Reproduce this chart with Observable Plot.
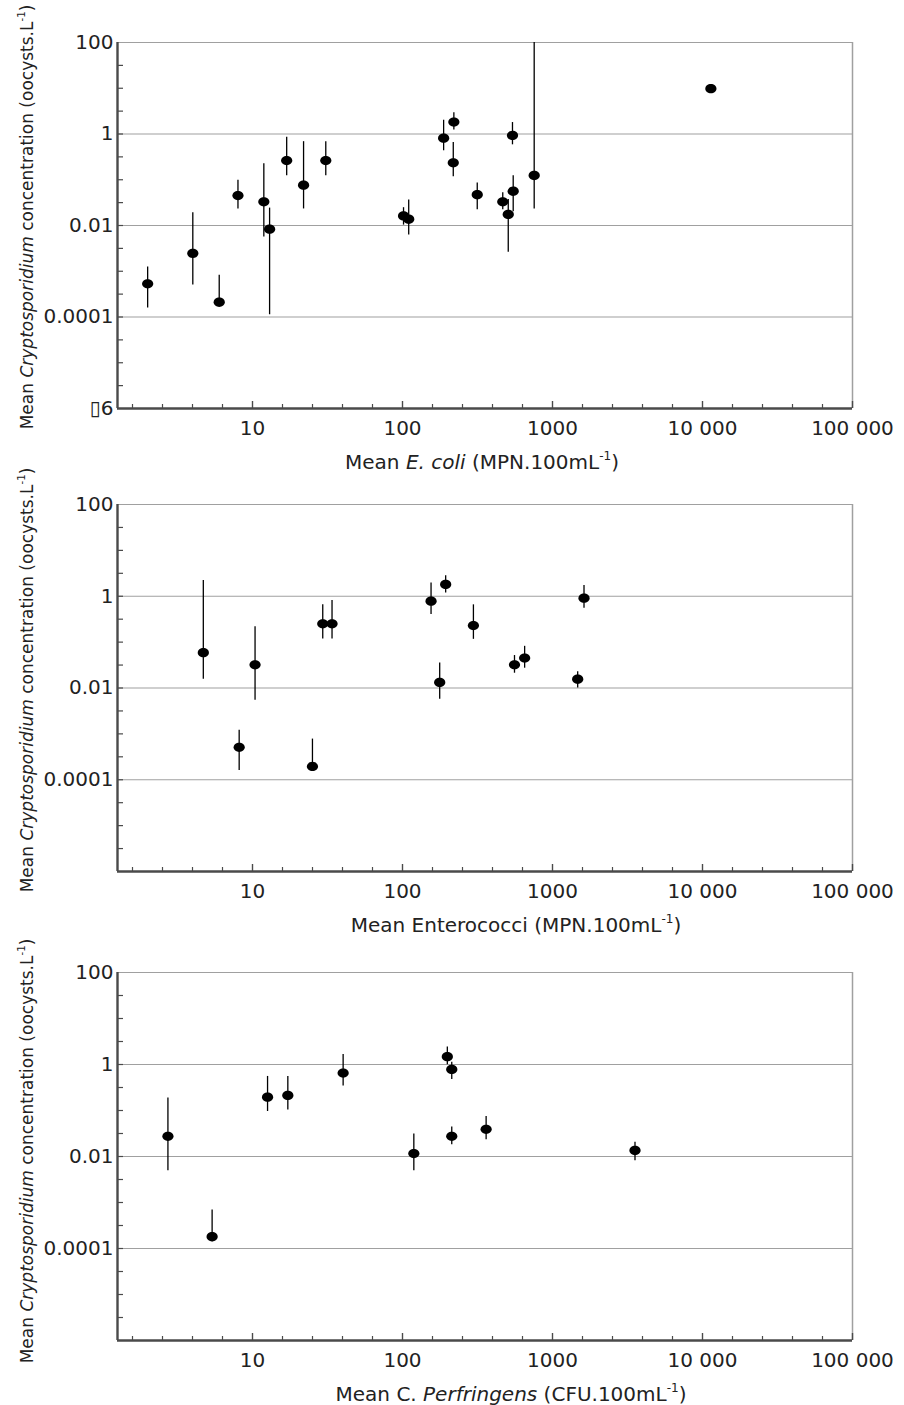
<!DOCTYPE html>
<html>
<head>
<meta charset="utf-8">
<script src="https://cdn.jsdelivr.net/npm/d3@7"></script>
<script src="https://cdn.jsdelivr.net/npm/@observablehq/plot@0.6"></script>
<style>
  html, body { margin: 0; padding: 0; background: #fff; }
  #chart svg { display: block; overflow: visible; }
</style>
</head>
<body>
<div id="chart"></div>
<script>
// ---------- Data ----------
// Panel 1: E. coli
const ecoliX  = [2.0, 4.0, 6.0, 8.0, 11.9, 13.0, 16.9, 21.9, 30.8, 101.6, 110, 188, 220, 218, 315, 466, 507, 547, 541, 755, 11370];
const ecoliY  = [0.00053, 0.00245, 0.00021, 0.045, 0.033, 0.0083, 0.263, 0.076, 0.263, 0.0162, 0.0137, 0.81, 1.82, 0.234, 0.047, 0.033, 0.0175, 0.056, 0.93, 0.124, 9.8];
const ecoliLo = [0.000158, 0.0005, 0.00018, 0.023, 0.0056, 0.000112, 0.123, 0.023, 0.123, 0.0102, 0.0062, 0.43, 1.23, 0.117, 0.022, 0.022, 0.0026, 0.020, 0.58, 0.023, null];
const ecoliHi = [0.00124, 0.019, 0.00082, 0.098, 0.225, 0.024, 0.85, 0.68, 0.68, 0.0245, 0.036, 2.0, 2.9, 0.65, 0.085, 0.052, 0.037, 0.123, 1.78, 100, null];

// Panel 2: Enterococci
const entX  = [4.7, 8.15, 10.4, 25.1, 29.4, 33.9, 155, 177, 194, 297, 558, 652, 1472, 1622];
const entY  = [0.059, 0.00051, 0.032, 0.000195, 0.25, 0.25, 0.78, 0.0132, 1.81, 0.23, 0.032, 0.045, 0.0155, 0.91];
const entLo = [0.0155, 0.00016, 0.0054, 0.00016, 0.117, 0.117, 0.40, 0.0057, 1.17, 0.115, 0.021, 0.027, 0.010, 0.55];
const entHi = [2.2, 0.0012, 0.215, 0.00077, 0.65, 0.81, 1.95, 0.035, 2.8, 0.65, 0.051, 0.081, 0.0226, 1.72];

// Panel 3: C. perfringens
const cpX  = [2.73, 5.38, 12.6, 17.2, 40.2, 119, 199, 213, 213, 361, 3548];
const cpY  = [0.0275, 0.00018, 0.195, 0.213, 0.65, 0.0116, 1.48, 0.78, 0.0275, 0.039, 0.0135];
const cpLo = [0.0049, 0.00014, 0.095, 0.103, 0.34, 0.0049, 0.99, 0.47, 0.018, 0.023, 0.0081];
const cpHi = [0.186, 0.00069, 0.55, 0.55, 1.66, 0.031, 2.4, 1.12, 0.044, 0.074, 0.0205];

// Axis ticks and labels
const xDomain = [Math.pow(10, 0.1), 100000];
const yDomain = [0.000001, 100];
const xMajorTicks = [10, 100, 1000, 10000, 100000];
const xMajorLabels = ["10", "100", "1000", "10 000", "100 000"];
const xMinorTicks = d3.range(1, 26).filter(k => k % 5 !== 0).map(k => Math.pow(10, k / 5));
const yMinorTicks = d3.range(-11, 4).map(k => Math.pow(10, k / 2));
const gridValues = [100, 1, 0.01, 0.0001];
const yLabelValues = [100, 1, 0.01, 0.0001, 0.000001];
const yLabelTexts = ["100", "1", "0.01", "0.0001", "\u25AF6"];

// ---------- Drawing ----------
const FONT = "DejaVu Sans";
const AXIS = "#4a4a4a";
const GRID = "#a0a0a0";
const xLabelMap = new Map(xMajorTicks.map((v, i) => [v, xMajorLabels[i]]));
const yLabelMap = new Map(yLabelValues.map((v, i) => [v, yLabelTexts[i]]));

// slightly wide ellipse marker
const ellipse = {
  draw(ctx, size) {
    const r = Math.sqrt(size / Math.PI);
    const rx = r * 1.12, ry = r * 0.93, k = 0.5523;
    ctx.moveTo(rx, 0);
    ctx.bezierCurveTo(rx, ry * k, rx * k, ry, 0, ry);
    ctx.bezierCurveTo(-rx * k, ry, -rx, ry * k, -rx, 0);
    ctx.bezierCurveTo(-rx, -ry * k, -rx * k, -ry, 0, -ry);
    ctx.bezierCurveTo(rx * k, -ry, rx, -ry * k, rx, 0);
    ctx.closePath();
  }
};

function addRich(sel, parts) {
  for (const p of parts) {
    const t = sel.append("tspan").text(p.t);
    if (p.i) t.attr("font-style", "italic");
    if (p.sup) t.attr("font-size", "0.6em").attr("dy", "-0.75em");
    if (p.after) t.attr("dy", "0.45em");
  }
}

function panel(cfg) {
  const data = cfg.xs.map((x, i) => ({x, y: cfg.ys[i], lo: cfg.lo[i], hi: cfg.hi[i]}));
  const bars = data.filter(d => d.lo != null && d.hi != null);
  const nLab = cfg.showBottomLabel ? yLabelValues.length : yLabelValues.length - 1;
  const svg = Plot.plot({
    width: 904,
    height: cfg.height,
    marginLeft: 117,
    marginRight: 52,
    marginTop: cfg.marginTop,
    marginBottom: cfg.marginBottom,
    style: {fontFamily: FONT, fontSize: "20px", color: "#222", background: "transparent", overflow: "visible"},
    x: {type: "log", domain: xDomain, label: null},
    y: {type: "log", domain: yDomain, label: null},
    marks: [
      Plot.ruleY(gridValues, {stroke: GRID, strokeWidth: 1.2}),
      Plot.ruleX([xDomain[1]], {stroke: GRID, strokeWidth: 1.5}),
      // inward ticks
      Plot.axisY(yMinorTicks, {tickSize: -6, tickFormat: () => "", stroke: AXIS, strokeWidth: 1.2, label: null}),
      Plot.axisX(xMinorTicks, {tickSize: -4, tickFormat: () => "", stroke: AXIS, strokeWidth: 1.2, label: null}),
      Plot.axisX(xMajorTicks, {tickSize: -7, tickFormat: () => "", stroke: AXIS, strokeWidth: 1.4, label: null}),
      // tick labels
      Plot.axisY(yLabelValues.slice(0, nLab), {tickSize: 0, tickPadding: 4, tickFormat: d => yLabelMap.get(d), fill: "#222", fontSize: 20, label: null}),
      Plot.axisX(xMajorTicks, {tickSize: 0, tickPadding: 12, tickFormat: d => xLabelMap.get(d), fill: "#222", fontSize: 20, label: null}),
      // axis lines
      Plot.ruleY([yDomain[0]], {stroke: AXIS, strokeWidth: 2.4}),
      Plot.ruleX([xDomain[0]], {stroke: AXIS, strokeWidth: 2.4}),
      // error bars and points
      Plot.ruleX(bars, {x: "x", y1: "lo", y2: "hi", stroke: "#000", strokeWidth: 1.3}),
      Plot.dot(data, {x: "x", y: "y", r: 5, symbol: ellipse, fill: "#000", stroke: null})
    ]
  });

  const s = d3.select(svg);
  // x-axis title
  const xt = s.append("text")
    .attr("x", cfg.xTitleCenter)
    .attr("y", cfg.height - cfg.marginBottom + 61)
    .attr("text-anchor", "middle")
    .attr("font-family", FONT)
    .attr("font-size", 20)
    .attr("fill", "#222");
  addRich(xt, cfg.xTitle);
  // y-axis title
  const yt = s.append("text")
    .attr("transform", `translate(33,${cfg.yTitleCenter}) rotate(-90)`)
    .attr("text-anchor", "middle")
    .attr("font-family", FONT)
    .attr("font-size", 17)
    .attr("fill", "#222");
  addRich(yt, [
    {t: "Mean "}, {t: "Cryptosporidium", i: true}, {t: " concentration (oocysts.L"},
    {t: "-1", sup: true}, {t: ")", after: true}
  ]);
  return svg;
}

const root = document.getElementById("chart");

root.appendChild(panel({
  xs: ecoliX, ys: ecoliY, lo: ecoliLo, hi: ecoliHi,
  height: 478, marginTop: 42, marginBottom: 70, showBottomLabel: true,
  xTitleCenter: 482, yTitleCenter: 217,
  xTitle: [{t: "Mean "}, {t: "E. coli", i: true}, {t: " (MPN.100mL"}, {t: "-1", sup: true}, {t: ")", after: true}]
}));

root.appendChild(panel({
  xs: entX, ys: entY, lo: entLo, hi: entHi,
  height: 467, marginTop: 26, marginBottom: 74, showBottomLabel: false,
  xTitleCenter: 516, yTitleCenter: 202,
  xTitle: [{t: "Mean Enterococci (MPN.100mL"}, {t: "-1", sup: true}, {t: ")", after: true}]
}));

root.appendChild(panel({
  xs: cpX, ys: cpY, lo: cpLo, hi: cpHi,
  height: 460, marginTop: 27, marginBottom: 65, showBottomLabel: false,
  xTitleCenter: 511, yTitleCenter: 206,
  xTitle: [{t: "Mean C. "}, {t: "Perfringens", i: true}, {t: " (CFU.100mL"}, {t: "-1", sup: true}, {t: ")", after: true}]
}));
</script>
</body>
</html>
